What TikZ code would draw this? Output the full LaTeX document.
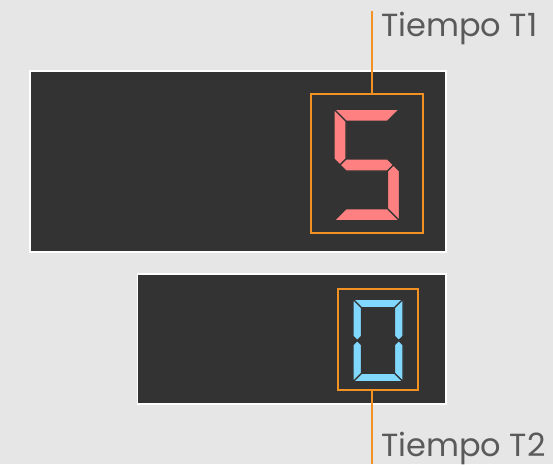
\documentclass[tikz,border=0pt]{standalone}
\usepackage{fontspec}
\setmainfont{Poppins}
\definecolor{bgc}{HTML}{E6E6E6}
\definecolor{panelc}{HTML}{333333}
\definecolor{orangec}{HTML}{F39222}
\definecolor{redseg}{HTML}{FF8080}
\definecolor{blueseg}{HTML}{80D8FF}
\definecolor{textc}{HTML}{5A5A5A}
\newcommand{\setdigit}[5]{\def\dgL{#1}\def\dgR{#2}\def\dgT{#3}\def\dgB{#4}\def\dgt{#5}%
  \pgfmathsetmacro\dgM{(#3+#4)/2}\pgfmathsetmacro\dgh{#5/2}}
\newcommand{\segA}[1]{\filldraw[seg,#1] (\dgL,\dgT) -- (\dgR,\dgT) -- ({\dgR-\dgt},{\dgT+\dgt}) -- ({\dgL+\dgt},{\dgT+\dgt}) -- cycle;}
\newcommand{\segB}[1]{\filldraw[seg,#1] (\dgR,\dgT) -- (\dgR,{\dgM-\dgh}) -- ({\dgR-\dgh},\dgM) -- ({\dgR-\dgt},{\dgM-\dgh}) -- ({\dgR-\dgt},{\dgT+\dgt}) -- cycle;}
\newcommand{\segC}[1]{\filldraw[seg,#1] ({\dgR-\dgt},{\dgM+\dgh}) -- ({\dgR-\dgh},\dgM) -- (\dgR,{\dgM+\dgh}) -- (\dgR,\dgB) -- ({\dgR-\dgt},{\dgB-\dgt}) -- cycle;}
\newcommand{\segD}[1]{\filldraw[seg,#1] (\dgL,\dgB) -- ({\dgL+\dgt},{\dgB-\dgt}) -- ({\dgR-\dgt},{\dgB-\dgt}) -- (\dgR,\dgB) -- cycle;}
\newcommand{\segE}[1]{\filldraw[seg,#1] (\dgL,{\dgM+\dgh}) -- ({\dgL+\dgh},\dgM) -- ({\dgL+\dgt},{\dgM+\dgh}) -- ({\dgL+\dgt},{\dgB-\dgt}) -- (\dgL,\dgB) -- cycle;}
\newcommand{\segF}[1]{\filldraw[seg,#1] (\dgL,\dgT) -- ({\dgL+\dgt},{\dgT+\dgt}) -- ({\dgL+\dgt},{\dgM-\dgh}) -- ({\dgL+\dgh},\dgM) -- (\dgL,{\dgM-\dgh}) -- cycle;}
\newcommand{\segG}[1]{\filldraw[seg,#1] ({\dgL+\dgh},\dgM) -- ({\dgL+\dgt},{\dgM-\dgh}) -- ({\dgR-\dgt},{\dgM-\dgh}) -- ({\dgR-\dgh},\dgM) -- ({\dgR-\dgt},{\dgM+\dgh}) -- ({\dgL+\dgt},{\dgM+\dgh}) -- cycle;}
\tikzset{
  panel/.style={fill=panelc, draw=white, line width=1.5pt},
  seg/.style={draw=panelc, line width=1.3pt, line join=miter},
  hilite/.style={draw=orangec, line width=2.2pt, fill=none, rectangle, inner sep=0pt},
  leader/.style={draw=orangec, line width=2.2pt},
  lbl/.style={text=textc, font=\fontsize{32}{38}\selectfont, inner sep=0pt, anchor=base west}
}
\begin{document}
\begin{tikzpicture}[x=1pt,y=-1pt]
\fill[bgc] (0,0) rectangle (553,464);
\useasboundingbox (0,0) rectangle (553,464);
% panels
\draw[panel] (30,71) rectangle (446,252);
\draw[panel] (137.5,274) rectangle (446,404);
% digit 5
\setdigit{334}{399.5}{109.3}{220.7}{12}
\segA{fill=redseg}\segF{fill=redseg}\segG{fill=redseg}\segC{fill=redseg}\segD{fill=redseg}
% digit 0
\setdigit{353}{403}{299.3}{381.7}{8.5}
\segA{fill=blueseg}\segB{fill=blueseg}\segC{fill=blueseg}\segD{fill=blueseg}\segE{fill=blueseg}\segF{fill=blueseg}
% highlight boxes
\node[hilite, minimum width=111.7pt, minimum height=139pt] (box1) at (366.85,163.5) {};
\node[hilite, minimum width=80pt, minimum height=100.7pt] (box2) at (377.7,339.65) {};
% labels
\node[lbl] (t1) at (381,36.7) {Tiempo T1};
\node[lbl] (t2) at (381,456.7) {Tiempo T2};
\coordinate (c1) at (372.3,10.7);
\coordinate (c2) at (372.3,464);
\draw[leader] (c1) -- (c1 |- box1.north);
\draw[leader] (box2.south -| c2) -- (c2);
\end{tikzpicture}
\end{document}
